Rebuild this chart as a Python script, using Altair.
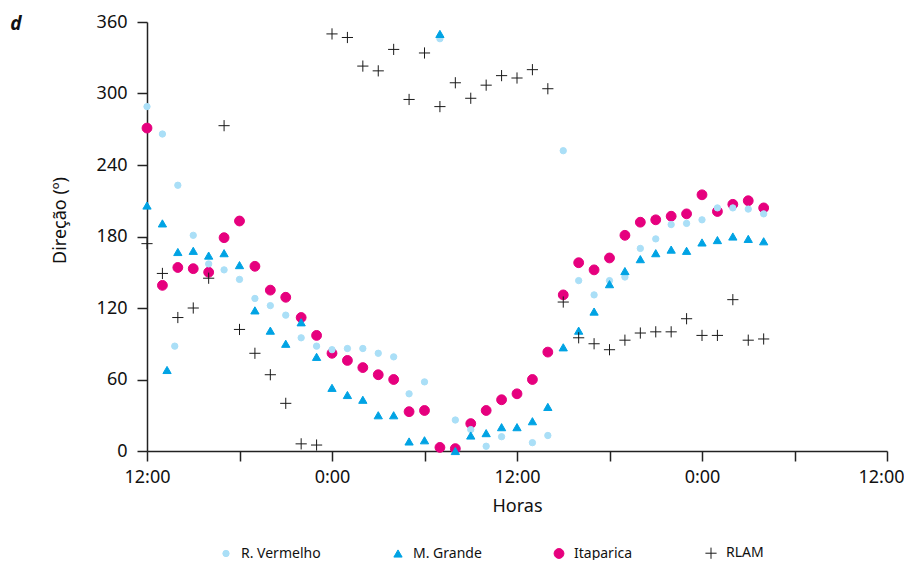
import altair as alt
import pandas as pd

series_names = ["R. Vermelho", "M. Grande", "Itaparica", "RLAM"]
series_colors = ["#aadff7", "#00a3e4", "#e6007e", "#1a1a1a"]
x_tick_values = [0, 6, 12, 18, 24, 30, 36, 42, 48]
y_tick_values = [0, 60, 120, 180, 240, 300, 360]
panel_label = ["d"]

# hours since the first 12:00 and direction (degrees)
rv_hours = [0, 1, 1.8, 2, 3, 4, 5, 6, 7, 8, 9, 10, 11, 12, 13, 14, 15, 16, 17, 18, 19, 20,
            21, 22, 23, 25, 26, 27, 28, 29, 30, 31, 32, 33, 34, 35, 36, 37, 38, 39, 40]
rv_dir = [289, 266, 88, 223, 181, 157, 152, 144, 128, 122, 114, 95, 88, 85, 86, 86, 82, 79,
          48, 58, 346, 26, 18, 4, 12, 7, 13, 252, 143, 131, 143, 146, 170, 178, 190, 191,
          194, 204, 204, 203, 199]

mg_hours = [0, 1, 1.3, 2, 3, 4, 5, 6, 7, 8, 9, 10, 11, 12, 13, 14, 15, 16, 17, 18, 19, 20,
            21, 22, 23, 24, 25, 26, 27, 28, 29, 30, 31, 32, 33, 34, 35, 36, 37, 38, 39, 40]
mg_dir = [206, 191, 68, 167, 168, 164, 166, 156, 118, 101, 90, 108, 79, 53, 47, 43, 30, 30,
          8, 9, 350, 0, 13, 15, 20, 20, 25, 37, 87, 101, 117, 140, 151, 161, 166, 169, 168,
          175, 177, 180, 178, 176]

it_hours = list(range(0, 41))
it_dir = [271, 139, 154, 153, 150, 179, 193, 155, 135, 129, 112, 97, 82, 76, 70, 64, 60,
          33, 34, 3, 2, 23, 34, 43, 48, 60, 83, 131, 158, 152, 162, 181, 192, 194, 197, 199,
          215, 201, 207, 210, 204]

rl_hours = list(range(0, 41))
rl_dir = [174, 149, 112, 120, 145, 273, 102, 82, 64, 40, 6, 5, 350, 347, 323, 319, 337, 295,
          334, 289, 309, 296, 307, 315, 313, 320, 304, 125, 95, 90, 85, 93, 99, 100, 100, 111,
          97, 97, 127, 93, 94]

rows = []
for name, hs, ds in [("Itaparica", it_hours, it_dir),
                     ("R. Vermelho", rv_hours, rv_dir),
                     ("M. Grande", mg_hours, mg_dir),
                     ("RLAM", rl_hours, rl_dir)]:
    for h, d in zip(hs, ds):
        rows.append({"serie": name, "hora": h, "direcao": d})
df = pd.DataFrame(rows)

FONT = "Noto Sans"
plus_path = "M-1,0L1,0M0,-1L0,1"

color_scale = alt.Scale(domain=series_names, range=series_colors)
shape_scale = alt.Scale(domain=series_names, range=["circle", "triangle-up", "circle", plus_path])
size_scale = alt.Scale(domain=series_names, range=[40, 125, 36, 100])

points = alt.Chart(df).mark_point(filled=True, strokeWidth=1, opacity=1).encode(
    x=alt.X("hora:Q",
            scale=alt.Scale(domain=[0, 48], nice=False, zero=False),
            axis=alt.Axis(title="Horas", values=x_tick_values,
                          labelExpr="datum.value % 24 == 0 ? '12:00' : (datum.value % 12 == 0 ? '0:00' : '')",
                          grid=False, tickSize=10, labelPadding=7, titlePadding=11,
                          labelAlign={"condition": {"test": "datum.value == 48", "value": "right"},
                                      "value": "center"},
                          labelOffset={"condition": {"test": "datum.value == 48", "value": 17},
                                       "value": 0},
                          labelFlush=False, labelOverlap=False)),
    y=alt.Y("direcao:Q",
            scale=alt.Scale(domain=[0, 360], nice=False),
            axis=alt.Axis(title="Direção (º)", values=y_tick_values, grid=False,
                          tickSize=10, labelPadding=10, titleAngle=-90,
                          titleX=-87, titleY=198, titleAlign="center",
                          titleBaseline="middle", labelFlush=False)),
    color=alt.Color("serie:N", scale=color_scale, sort=series_names,
                    legend=alt.Legend(title=None, orient="none", direction="horizontal",
                                      legendX=72, legendY=524, symbolSize=60,
                                      labelOffset=8, columnPadding=70,
                                      labelFontSize=14, labelFont=FONT,
                                      symbolStrokeWidth=1, padding=0)),
    stroke=alt.Stroke("serie:N", scale=color_scale, sort=series_names),
    shape=alt.Shape("serie:N", scale=shape_scale, sort=series_names),
    size=alt.Size("serie:N", scale=size_scale, legend=None),
    order=alt.Order("ord:Q"),
).transform_calculate(
    ord="datum.serie == 'Itaparica' ? 0 : datum.serie == 'R. Vermelho' ? 1 : datum.serie == 'M. Grande' ? 2 : 3"
)

label = alt.Chart(pd.DataFrame({"t": panel_label})).mark_text(
    font=FONT, fontSize=19, fontStyle="italic", fontWeight="bold",
    align="center", baseline="alphabetic", color="#111"
).encode(x=alt.value(-131), y=alt.value(8), text="t:N")

chart = alt.layer(points, label).properties(
    width=740, height=429,
    autosize=alt.AutoSizeParams(type="none"),
    padding={"left": 139, "top": 14, "right": 17, "bottom": 109},
).configure_view(stroke=None).configure_axis(
    domainColor="#222", domainWidth=1.5, tickColor="#222", tickWidth=1.5,
    labelFont=FONT, labelFontSize=18, labelColor="#111",
    titleFont=FONT, titleFontSize=18, titleColor="#111", titleFontWeight="normal",
).configure_legend(labelColor="#111")

chart.save("out.html", embed_options={"renderer": "svg", "actions": False})
